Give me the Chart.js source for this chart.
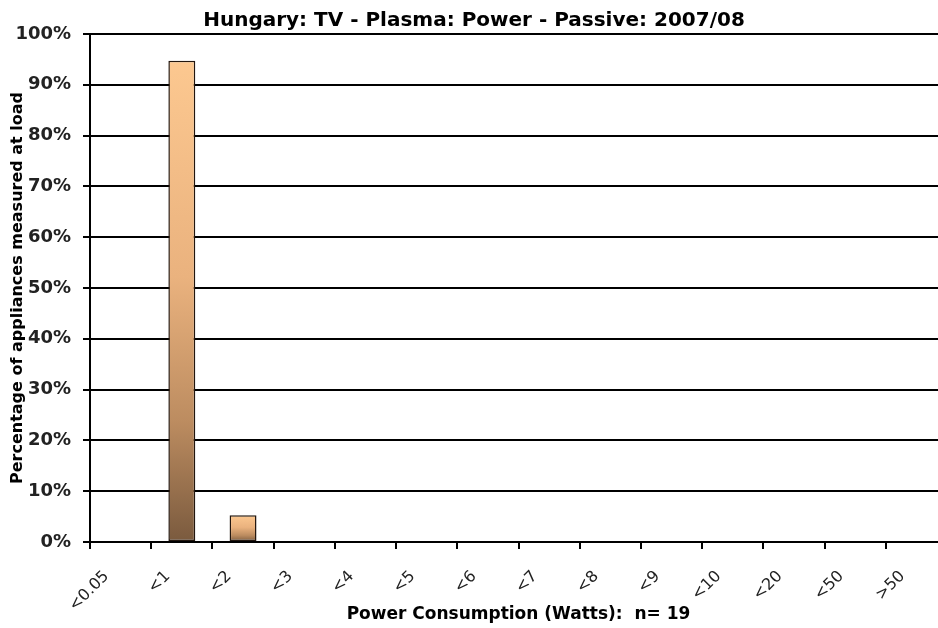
<!DOCTYPE html>
<html>
<head>
<meta charset="utf-8">
<script src="https://cdn.jsdelivr.net/npm/chart.js@4.4.1/dist/chart.umd.min.js"></script>
<style>
  html, body { margin: 0; padding: 0; background: #fff; overflow: hidden; }
  #wrap { width: 938px; height: 628px; overflow: hidden; position: relative; }
  canvas { display: block; }
</style>
</head>
<body>
<div id="wrap"><canvas id="chart" width="948" height="628" style="width:948px;height:628px"></canvas></div>
<script>
// Power-consumption bands (Watts) for passive standby of plasma TVs
const categories = ['<0.05', '<1', '<2', '<3', '<4', '<5', '<6', '<7', '<8', '<9', '<10', '<20', '<50', '>50'];
// Share of measured appliances in each band, percent (n = 19)
const shares = [0, 94.74, 5.26, 0, 0, 0, 0, 0, 0, 0, 0, 0, 0, 0];
// Y axis range and step, percent
const yMin = 0;
const yMax = 100;
const yStep = 10;

const titleText = 'Hungary: TV - Plasma: Power - Passive: 2007/08';
const xTitle = 'Power Consumption (Watts):  n= 19';
const yTitle = 'Percentage of appliances measured at load';

const FONT = "'DejaVu Sans', Verdana, sans-serif";

// Each bar gets its own top-to-bottom tan gradient
function barFill(ctx) {
  const chart = ctx.chart;
  const area = chart.chartArea;
  if (!area || ctx.type !== 'data') return '#D9A472';
  const y = chart.scales.y;
  const top = y.getPixelForValue(ctx.raw);
  const bottom = y.getPixelForValue(0);
  if (bottom - top < 1) return '#FCC890';
  const g = chart.ctx.createLinearGradient(0, top, 0, bottom);
  g.addColorStop(0, '#FCC890');
  g.addColorStop(0.45, '#EAB27E');
  g.addColorStop(0.75, '#BC8C60');
  g.addColorStop(1, '#7A5A3E');
  return g;
}

new Chart(document.getElementById('chart'), {
  type: 'bar',
  data: {
    labels: categories,
    datasets: [{
      data: shares,
      backgroundColor: barFill,
      borderColor: '#22160E',
      borderWidth: 1.5,
      borderSkipped: false,
      categoryPercentage: 1,
      barPercentage: 0.44
    }]
  },
  options: {
    responsive: false,
    animation: false,
    layout: { padding: 0 },
    plugins: {
      legend: { display: false },
      tooltip: { enabled: false },
      title: {
        display: true,
        text: titleText,
        color: '#000',
        font: { family: FONT, size: 20, weight: 'bold' },
        padding: { top: 9, bottom: 1 }
      }
    },
    scales: {
      x: {
        offset: true,
        afterFit: (s) => { s.height = 86; },
        grid: {
          display: true,
          offset: true,
          drawOnChartArea: false,
          drawTicks: true,
          tickLength: 7,
          color: '#000',
          lineWidth: 2
        },
        border: { display: true, color: '#000', width: 2 },
        ticks: {
          minRotation: 45,
          maxRotation: 45,
          autoSkip: false,
          labelOffset: -14,
          padding: 18,
          color: '#222',
          font: { family: FONT, size: 16 }
        },
        title: {
          display: true,
          text: xTitle,
          color: '#000',
          font: { family: FONT, size: 17, weight: 'bold' },
          padding: { top: 0, bottom: 3 }
        }
      },
      y: {
        min: yMin,
        max: yMax,
        afterFit: (s) => { s.width = 90; },
        grid: {
          display: true,
          drawTicks: true,
          tickLength: 7,
          color: '#000',
          lineWidth: 2
        },
        border: { display: true, color: '#000', width: 2 },
        ticks: {
          stepSize: yStep,
          padding: 12,
          color: '#222',
          font: { family: FONT, size: 18, weight: 'bold' },
          callback: (v) => v + '%'
        },
        title: {
          display: true,
          text: yTitle,
          color: '#000',
          font: { family: FONT, size: 16, weight: 'bold' },
          padding: { top: 8, bottom: 0 }
        }
      }
    }
  }
});
</script>
</body>
</html>
